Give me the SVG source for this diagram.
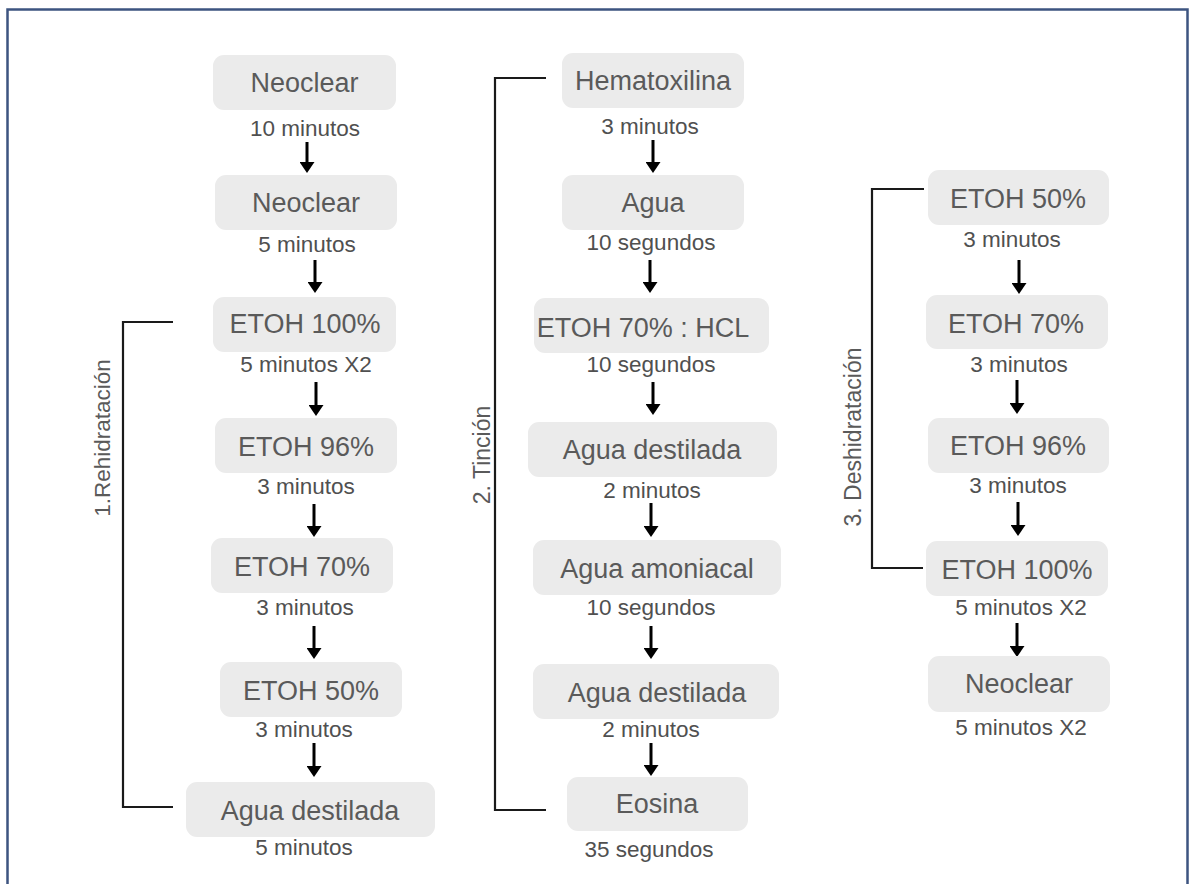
<svg xmlns="http://www.w3.org/2000/svg" width="1189" height="884" viewBox="0 0 1189 884">
<defs>
<marker id="ah" markerUnits="userSpaceOnUse" markerWidth="11" markerHeight="15" viewBox="0 0 11 15" refX="0" refY="7.5" orient="auto">
<path d="M0,0 L11,7.5 L0,15 Z" fill="#000"/>
</marker>
<style>
.box{fill:#ebebeb;}
.t{font-family:"Liberation Sans",Arial,sans-serif;font-size:27px;fill:#5a5a5a;text-anchor:middle;}
.s{font-family:"Liberation Sans",Arial,sans-serif;font-size:22.5px;fill:#505050;text-anchor:middle;}
.lab{font-family:"Liberation Sans",Arial,sans-serif;fill:#5a5a5a;text-anchor:middle;}
.arr{stroke:#000;stroke-width:3;fill:none;marker-end:url(#ah);}
.br{stroke:#1a1a1a;stroke-width:2.2;fill:none;}
</style>
</defs>
<rect x="0" y="0" width="1189" height="884" fill="#fff"/>
<rect x="7.5" y="9.5" width="1180" height="900" fill="none" stroke="#3d5480" stroke-width="2.5"/>

<g id="connectors">
<path class="arr" d="M307,142 V162"/>
<path class="arr" d="M315,260 V282"/>
<path class="arr" d="M316,382 V405"/>
<path class="arr" d="M314,504 V526"/>
<path class="arr" d="M314,626 V648"/>
<path class="arr" d="M314,743 V766"/>
<path class="arr" d="M653,140 V162"/>
<path class="arr" d="M650,260 V282"/>
<path class="arr" d="M653,382 V404"/>
<path class="arr" d="M651,503 V526"/>
<path class="arr" d="M651,626 V648"/>
<path class="arr" d="M651,743 V765"/>
<path class="arr" d="M1019,260 V283"/>
<path class="arr" d="M1017,380 V403"/>
<path class="arr" d="M1018,502 V525"/>
<path class="arr" d="M1017,623 V646"/>
</g>

<g id="brackets">
<path class="br" d="M173,322 H123 V807 H173"/>
<path class="br" d="M546,78 H495 V810 H546"/>
<path class="br" d="M924,189 H872 V568 H923"/>
<text class="lab" font-size="22.5" transform="translate(110,438) rotate(-90)">1.Rehidratación</text>
<text class="lab" font-size="23" transform="translate(490,455) rotate(-90)">2. Tinción</text>
<text class="lab" font-size="23" transform="translate(861,437) rotate(-90)">3. Deshidratación</text>
</g>

<g id="n1"><rect class="box" x="213" y="55" width="183" height="55" rx="11"/><text class="t" x="304.5" y="92">Neoclear</text><text class="s" x="305" y="136">10 minutos</text></g>
<g id="n2"><rect class="box" x="215" y="175" width="182" height="55" rx="11"/><text class="t" x="306" y="212">Neoclear</text><text class="s" x="307" y="252">5 minutos</text></g>
<g id="n3"><rect class="box" x="213" y="297" width="183" height="55" rx="11"/><text class="t" x="305" y="333">ETOH 100%</text><text class="s" x="306" y="372">5 minutos X2</text></g>
<g id="n4"><rect class="box" x="215" y="418" width="182" height="55" rx="11"/><text class="t" x="306" y="456">ETOH 96%</text><text class="s" x="306" y="494">3 minutos</text></g>
<g id="n5"><rect class="box" x="211" y="538" width="182" height="55" rx="11"/><text class="t" x="302" y="576">ETOH 70%</text><text class="s" x="305" y="615">3 minutos</text></g>
<g id="n6"><rect class="box" x="220" y="662" width="182" height="55" rx="11"/><text class="t" x="311" y="700">ETOH 50%</text><text class="s" x="304" y="737">3 minutos</text></g>
<g id="n7"><rect class="box" x="186" y="782" width="249" height="55" rx="11"/><text class="t" x="310" y="820">Agua destilada</text><text class="s" x="304" y="855">5 minutos</text></g>

<g id="m1"><rect class="box" x="562" y="53" width="182" height="55" rx="11"/><text class="t" x="653" y="90">Hematoxilina</text><text class="s" x="650" y="134">3 minutos</text></g>
<g id="m2"><rect class="box" x="562" y="175" width="182" height="55" rx="11"/><text class="t" x="653" y="212">Agua</text><text class="s" x="651" y="250">10 segundos</text></g>
<g id="m3"><rect class="box" x="534" y="298" width="235" height="55" rx="11"/><text class="t" x="643" y="337">ETOH 70% : HCL</text><text class="s" x="651" y="372">10 segundos</text></g>
<g id="m4"><rect class="box" x="528" y="422" width="249" height="55" rx="11"/><text class="t" x="652" y="459">Agua destilada</text><text class="s" x="652" y="498">2 minutos</text></g>
<g id="m5"><rect class="box" x="533" y="540" width="248" height="55" rx="11"/><text class="t" x="657" y="578">Agua amoniacal</text><text class="s" x="651" y="615">10 segundos</text></g>
<g id="m6"><rect class="box" x="533" y="664" width="246" height="55" rx="11"/><text class="t" x="657" y="702">Agua destilada</text><text class="s" x="651" y="737">2 minutos</text></g>
<g id="m7"><rect class="box" x="567" y="777" width="181" height="54" rx="11"/><text class="t" x="657" y="813">Eosina</text><text class="s" x="649" y="857">35 segundos</text></g>

<g id="r1"><rect class="box" x="928" y="170" width="181" height="55" rx="11"/><text class="t" x="1018" y="208">ETOH 50%</text><text class="s" x="1012" y="247">3 minutos</text></g>
<g id="r2"><rect class="box" x="926" y="295" width="182" height="54" rx="11"/><text class="t" x="1016" y="333">ETOH 70%</text><text class="s" x="1019" y="372">3 minutos</text></g>
<g id="r3"><rect class="box" x="928" y="418" width="181" height="55" rx="11"/><text class="t" x="1018" y="455">ETOH 96%</text><text class="s" x="1018" y="493">3 minutos</text></g>
<g id="r4"><rect class="box" x="926" y="541" width="182" height="55" rx="11"/><text class="t" x="1017" y="579">ETOH 100%</text><text class="s" x="1021" y="615">5 minutos X2</text></g>
<g id="r5"><rect class="box" x="928" y="656" width="182" height="56" rx="11"/><text class="t" x="1019" y="693">Neoclear</text><text class="s" x="1021" y="735">5 minutos X2</text></g>
</svg>
